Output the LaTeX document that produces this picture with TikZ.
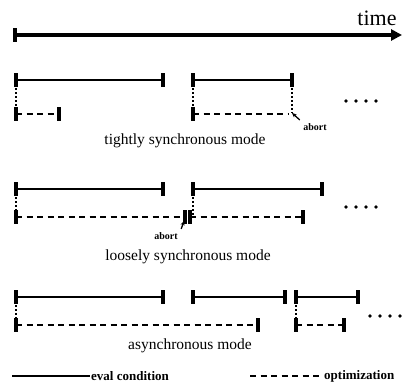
\documentclass[tikz,border=0pt]{standalone}
\usepackage{fontspec}
\setmainfont{Liberation Serif}
\usetikzlibrary{arrows.meta}

\begin{document}
\begin{tikzpicture}[x=1pt,y=-1pt,
  evalline/.style={line width=1.8pt},
  optline/.style={line width=1.8pt, dash pattern=on 6pt off 4.5pt},
  bar/.style={line width=3.2pt},
  link/.style={line width=1.2pt, dash pattern=on 2pt off 2pt},
  abortarrow/.style={line width=1.3pt, -{Stealth[length=4.5pt,width=4pt]}},
  modelabel/.style={font=\fontsize{15.5}{17}\selectfont},
  abortlabel/.style={font=\fontsize{10}{11}\selectfont\bfseries},
  legendlabel/.style={font=\fontsize{13}{14}\selectfont\bfseries, anchor=west, inner sep=1pt},
  pics/tick/.style={code={\draw[bar] (0,-7) -- (0,7);}},
  pics/more/.style={code={\foreach \k in {0,10,20,30} \fill (\k,0) circle (1.8);}}]
\useasboundingbox (0,0) rectangle (405,388);

% time axis
\coordinate (ax0) at (15,35);
\coordinate (ax1) at (402,35);
\draw[line width=4pt, -{Triangle[length=11pt,width=11pt]}] (ax0) -- (ax1);
\draw[line width=3.5pt] (15,28) -- (15,42);
\node[font=\fontsize{22}{24}\selectfont, anchor=base] (time) at (377,25) {time};

% ---------- tightly synchronous mode ----------
\coordinate (a1s) at (16,80);  \coordinate (a1e) at (163,80);
\coordinate (a2s) at (193,80); \coordinate (a2e) at (292,80);
\coordinate (o1s) at (16,114); \coordinate (o1e) at (59,114);
\coordinate (o2s) at (193,114); \coordinate (o2e) at (288,114);
\coordinate (ab1) at (292,113);
\draw[evalline] (a1s) -- (a1e);
\draw[evalline] (a2s) -- (a2e);
\draw[optline] (o1s) -- (o1e);
\draw[optline] (o2s) -- (o2e);
\foreach \p in {a1s,a1e,a2s,a2e,o1s,o1e,o2s} \pic at (\p) {tick};
\draw[link] (a1s) -- (o1s);
\draw[link] (a2s) -- (o2s);
\draw[link] (a2e) -- (ab1);
\node[abortlabel] (abortA) at (315,127) {abort};
\draw[abortarrow] (abortA.north west) -- (ab1);
\pic at (346,101) {more};
\node[modelabel] (tight) at (185,141) {tightly synchronous mode};

% ---------- loosely synchronous mode ----------
\coordinate (b1s) at (16,189);  \coordinate (b1e) at (163,189);
\coordinate (b2s) at (193,189); \coordinate (b2e) at (322,189);
\coordinate (p1s) at (16,217);  \coordinate (p1e) at (185,217);
\coordinate (p2s) at (190,217); \coordinate (p2e) at (303,217);
\coordinate (p2t) at (193,217);
\draw[evalline] (b1s) -- (b1e);
\draw[evalline] (b2s) -- (b2e);
\draw[optline] (p1s) -- (p1e);
\draw[optline] (p2s) -- (p2e);
\foreach \p in {b1s,b1e,b2s,b2e,p1s,p1e,p2s,p2e} \pic at (\p) {tick};
\draw[link] (b1s) -- (p1s);
\draw[link] (b2s) -- (p2t);
\node[abortlabel] (abortB) at (166,236) {abort};
\draw[abortarrow] (abortB.north east) -- (184,221);
\pic at (346,207) {more};
\node[modelabel] (loose) at (188,257) {loosely synchronous mode};

% ---------- asynchronous mode ----------
\coordinate (c1s) at (16,297);  \coordinate (c1e) at (163,297);
\coordinate (c2s) at (193,297); \coordinate (c2e) at (285,297);
\coordinate (c3s) at (296,297); \coordinate (c3e) at (358,297);
\coordinate (q1s) at (16,325);  \coordinate (q1e) at (258,325);
\coordinate (q2s) at (296,325); \coordinate (q2e) at (344,325);
\draw[evalline] (c1s) -- (c1e);
\draw[evalline] (c2s) -- (c2e);
\draw[evalline] (c3s) -- (c3e);
\draw[optline] (q1s) -- (q1e);
\draw[optline] (q2s) -- (q2e);
\foreach \p in {c1s,c1e,c2s,c2e,c3s,c3e,q1s,q1e,q2s,q2e} \pic at (\p) {tick};
\draw[link] (c1s) -- (q1s);
\draw[link] (c3s) -- (q2s);
\pic at (370,316) {more};
\node[modelabel] (async) at (190,346) {asynchronous mode};

% ---------- legend ----------
\coordinate (l1s) at (12,376); \coordinate (l1e) at (90,376);
\coordinate (l2s) at (250,376); \coordinate (l2e) at (320,376);
\draw[evalline] (l1s) -- (l1e);
\node[legendlabel] (evalkey) at (l1e) {eval condition};
\draw[optline] (l2s) -- (l2e);
\node[legendlabel] (optkey) at ([xshift=3pt]l2e) {optimization};
\end{tikzpicture}
\end{document}
